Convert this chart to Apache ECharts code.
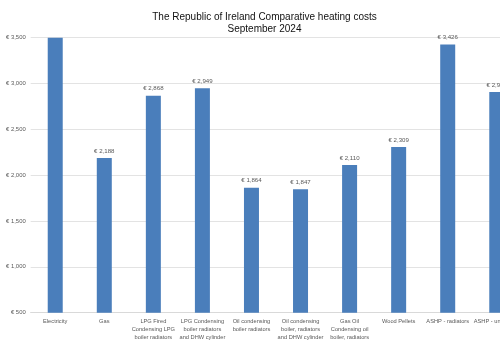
<!DOCTYPE html>
<html>
<head>
<meta charset="utf-8">
<script src="https://cdn.jsdelivr.net/npm/echarts@6/dist/echarts.min.js"></script>
<style>
html,body{margin:0;padding:0;overflow:hidden;background:#fff;}
#chart{width:529px;height:344px;}
</style>
</head>
<body>
<div id="chart"></div>
<script>
var titleText = "The Republic of Ireland Comparative heating costs\nSeptember 2024";
var categories = [
  "Electricity",
  "Gas",
  "LPG Fired\nCondensing LPG\nboiler radiators",
  "LPG Condensing\nboiler radiators\nand DHW cylinder",
  "Oil condensing\nboiler radiators",
  "Oil condensing\nboiler, radiators\nand DHW cylinder",
  "Gas Oil\nCondensing oil\nboiler, radiators",
  "Wood Pellets",
  "ASHP - radiators",
  "ASHP - underfloor"
];
var costs = [3500, 2188, 2868, 2949, 1864, 1847, 2110, 2309, 3426, 2909];
var yMin = 500, yMax = 3500, yStep = 500;

var FONT = "'Liberation Sans', Arial, sans-serif";
function euro(v){ return '\u20ac ' + Number(v).toLocaleString('en-US'); }

var chart = echarts.init(document.getElementById('chart'), null, {renderer:'canvas'});
chart.setOption({
  animation: false,
  backgroundColor: '#ffffff',
  title: {
    text: titleText,
    left: 'center',
    top: 6,
    textStyle: {fontFamily: FONT, fontSize: 10, fontWeight: 'normal', color: '#111111', lineHeight: 12}
  },
  grid: {left: 30.7, right: 7.7, top: 37.7, bottom: 31.3, outerBoundsMode: 'none', containLabel: false},
  xAxis: {
    type: 'category',
    data: categories,
    axisTick: {show: false},
    axisLine: {show: true, lineStyle: {color: '#d9d9d9'}},
    axisLabel: {interval: 0, fontFamily: FONT, fontSize: 5.7, lineHeight: 8, color: '#595959', margin: 5}
  },
  yAxis: {
    type: 'value',
    min: yMin, max: yMax, interval: yStep,
    axisLine: {show: false},
    axisTick: {show: false},
    splitLine: {lineStyle: {color: '#e3e3e3', width: 1}},
    axisLabel: {fontFamily: FONT, fontSize: 5.9, color: '#595959', margin: 5, formatter: euro}
  },
  series: [{
    type: 'bar',
    data: costs.map(function(v){ return {value: v, label: {show: v < yMax}}; }),
    barWidth: 15,
    itemStyle: {color: '#4a7ebb'},
    label: {show: true, position: 'top', distance: 4, fontFamily: FONT, fontSize: 6.1, color: '#595959', formatter: function(p){ return euro(p.value); }}
  }]
});
</script>
</body>
</html>
